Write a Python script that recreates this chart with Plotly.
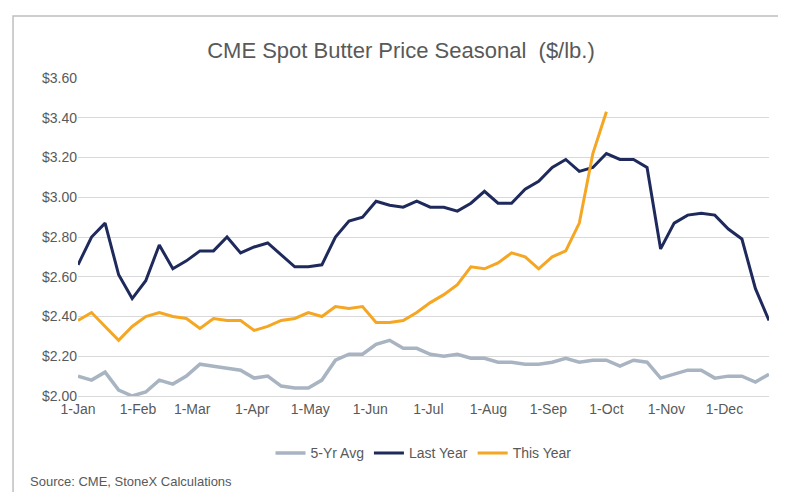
import plotly.graph_objects as go
import pandas as pd

dates = pd.date_range("2023-01-01", periods=52, freq="7D")
avg5 = [2.10,2.08,2.12,2.03,2.00,2.02,2.08,2.06,2.10,2.16,2.15,2.14,2.13,2.09,2.10,2.05,2.04,2.04,2.08,2.18,2.21,2.21,2.26,2.28,2.24,2.24,2.21,2.20,2.21,2.19,2.19,2.17,2.17,2.16,2.16,2.17,2.19,2.17,2.18,2.18,2.15,2.18,2.17,2.09,2.11,2.13,2.13,2.09,2.10,2.10,2.07,2.11]
last_year = [2.66,2.80,2.87,2.61,2.49,2.58,2.76,2.64,2.68,2.73,2.73,2.80,2.72,2.75,2.77,2.71,2.65,2.65,2.66,2.80,2.88,2.90,2.98,2.96,2.95,2.98,2.95,2.95,2.93,2.97,3.03,2.97,2.97,3.04,3.08,3.15,3.19,3.13,3.15,3.22,3.19,3.19,3.15,2.74,2.87,2.91,2.92,2.91,2.84,2.79,2.54,2.38]
this_year = [2.38,2.42,2.35,2.28,2.35,2.40,2.42,2.40,2.39,2.34,2.39,2.38,2.38,2.33,2.35,2.38,2.39,2.42,2.40,2.45,2.44,2.45,2.37,2.37,2.38,2.42,2.47,2.51,2.56,2.65,2.64,2.67,2.72,2.70,2.64,2.70,2.73,2.87,3.22,3.43]
tick_dates = pd.date_range("2023-01-01", periods=12, freq="MS")
tick_labels = [d.strftime("1-%b") for d in tick_dates]

fig = go.Figure()
fig.add_trace(go.Scatter(x=dates, y=avg5, name="5-Yr Avg", mode="lines", line=dict(color="#A9B4C2", width=3.5)))
fig.add_trace(go.Scatter(x=dates, y=last_year, name="Last Year", mode="lines", line=dict(color="#1F2A5C", width=3)))
fig.add_trace(go.Scatter(x=dates[:len(this_year)], y=this_year, name="This Year", mode="lines", line=dict(color="#F5A623", width=3)))

fig.update_layout(
    width=786, height=492, paper_bgcolor="white", plot_bgcolor="white",
    margin=dict(l=70, r=25, t=70, b=104),
    title=dict(text="CME Spot Butter Price Seasonal  ($/lb.)", x=0.5, y=0.93, xanchor="center",
               font=dict(family="Liberation Sans, Arial", size=22, color="#595959")),
    font=dict(family="Liberation Sans, Arial", size=14, color="#595959"),
    legend=dict(orientation="h", x=0.5, xanchor="center", y=-0.13, yanchor="top", font=dict(size=14)),
    showlegend=True,
)
fig.update_xaxes(range=[pd.Timestamp("2023-01-01"), pd.Timestamp("2023-12-24")],
                 tickvals=tick_dates, ticktext=tick_labels, showgrid=False,
                 showline=True, linecolor="#D9D9D9", ticks="")
fig.update_yaxes(range=[2.0, 3.6], dtick=0.2, tickformat="$.2f", showgrid=True, gridcolor="#D9D9D9",
                 zeroline=False)
fig.add_annotation(text="Source: CME, StoneX Calculations", xref="paper", yref="paper", x=-0.072, y=-0.27,
                   xanchor="left", yanchor="middle", showarrow=False, font=dict(size=13, color="#595959"))
fig.add_shape(type="rect", xref="paper", yref="paper", x0=-0.094, y0=-0.315, x1=1.029, y1=1.195,
              line=dict(color="#BFBFBF", width=1.5))
fig.write_html("out.html")
